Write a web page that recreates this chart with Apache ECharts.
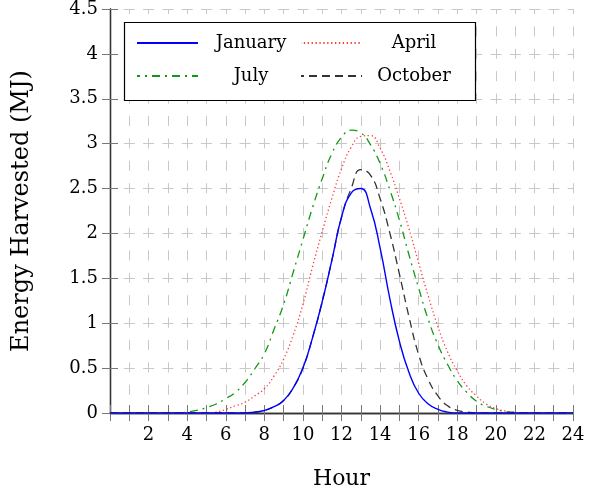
<!DOCTYPE html>
<html>
<head>
<meta charset="utf-8">
<script src="https://cdn.jsdelivr.net/npm/echarts@6/dist/echarts.min.js"></script>
<style>
html,body{margin:0;padding:0;background:#fff;}
#chart{width:589px;height:495px;}
</style>
</head>
<body>
<div id="chart"></div>
<script>
// Hours (half-hour steps)
var hours = [0,0.5,1,1.5,2,2.5,3,3.5,4,4.5,5,5.5,6,6.5,7,7.5,8,8.5,9,9.5,10,10.5,11,11.5,12,12.5,13,13.5,14,14.5,15,15.5,16,16.5,17,17.5,18,18.5,19,19.5,20,20.5,21,21.5,22,22.5,23,23.5,24];

var january = [0,0,0,0,0,0,0,0,0,0,0,0,0,0,
  0,0.01,0.028,0.07,0.14,0.28,0.50,0.84,1.24,1.70,2.18,2.45,2.50,2.28,1.84,1.28,0.80,0.45,0.22,0.10,0.04,0.01,
  0,0,0,0,0,0,0,0,0,0,0,0,0];

var april = [0,0,0,0,0,0,0,0,0,0,0,
  0.01,0.04,0.08,0.12,0.19,0.27,0.41,0.60,0.87,1.21,1.63,2.02,2.39,2.72,2.96,3.08,3.09,2.95,2.70,2.39,2.05,1.67,1.30,0.96,0.68,0.47,0.30,0.19,0.10,0.05,0.02,0.005,
  0,0,0,0,0,0];

var july = [0,0,0,0,0,0,0,0,
  0.01,0.03,0.06,0.10,0.16,0.23,0.34,0.49,0.66,0.93,1.21,1.57,1.93,2.29,2.61,2.89,3.07,3.15,3.12,2.99,2.78,2.49,2.15,1.76,1.39,1.04,0.76,0.54,0.36,0.23,0.13,0.075,0.04,0.017,0.008,0.003,
  0,0,0,0,0];

var october = [0,0,0,0,0,0,0,0,0,0,0,0,0,0,0,
  0.01,0.028,0.07,0.14,0.28,0.50,0.84,1.24,1.70,2.18,2.50,2.71,2.65,2.39,2.01,1.55,1.07,0.65,0.37,0.19,0.08,0.03,0.01,
  0,0,0,0,0,0,0,0,0,0,0];

var seriesNames = ['January','April','July','October'];
var xTickLabels = ['2','4','6','8','10','12','14','16','18','20','22','24'];
var xAxisTitle = 'Hour';
var yAxisTitle = 'Energy Harvested (MJ)';

function pairs(vals){ return hours.map(function(h,i){ return [h, vals[i]]; }); }

var FONT = "'DejaVu Serif', serif";
var chart = echarts.init(document.getElementById('chart'), null, {renderer:'canvas'});

var gridSplitV = {show:true, lineStyle:{color:'#c8c8c8', width:1, type:[10,12.4], dashOffset:5}};
var gridSplitH = {show:true, lineStyle:{color:'#c8c8c8', width:1, type:[11,8.3], dashOffset:5.5}};
var axisLineStyle = {show:true, lineStyle:{color:'#333', width:1.3}};
var tickStyle = {show:true, inside:true, length:8, lineStyle:{color:'#777', width:1}};

function mkLegend(name, left, top, textWidth){
  return {
    show:true, data:[name], left:left, top:top, padding:0,
    itemWidth:61, itemHeight:20, itemGap:0, orient:'horizontal',
    selectedMode:false,
    itemStyle:{color:'rgba(0,0,0,0)', borderWidth:0, opacity:0},
    formatter:function(n){ return '{t|' + n + '}'; },
    textStyle:{fontFamily:FONT, fontSize:18, color:'#000',
      rich:{t:{fontFamily:FONT, fontSize:18, color:'#000', width:textWidth, align:'center'}}}
  };
}

var option = {
  backgroundColor:'#fff',
  animation:false,
  grid:{left:110, right:16, top:9, bottom:82, containLabel:false},
  graphic:[{
    type:'rect', z:3,
    shape:{x:124.5, y:22.5, width:351, height:78},
    style:{fill:'#fff', stroke:'#000', lineWidth:1.2}
  }],
  legend:[
    mkLegend(seriesNames[0], 136, 34, 96),
    mkLegend(seriesNames[1], 300, 34, 94),
    mkLegend(seriesNames[2], 136, 67, 96),
    mkLegend(seriesNames[3], 300, 67, 94)
  ],
  xAxis:[{
    type:'value', min:0, max:24, interval:1, position:'bottom',
    name:xAxisTitle, nameLocation:'middle', nameGap:55,
    nameTextStyle:{fontFamily:FONT, fontSize:22, color:'#000'},
    axisLine:axisLineStyle, axisTick:tickStyle,
    axisLabel:{show:true, margin:13, fontFamily:FONT, fontSize:18, color:'#000',
      formatter:function(v){ var s=String(v); return xTickLabels.indexOf(s) >= 0 ? s : ''; }},
    splitLine:gridSplitV
  },{
    type:'value', min:0, max:24, interval:1, position:'top',
    axisLine:axisLineStyle, axisTick:tickStyle, axisLabel:{show:false}, splitLine:{show:false}
  }],
  yAxis:[{
    type:'value', min:0, max:4.5, interval:0.5, position:'left',
    name:yAxisTitle, nameLocation:'middle', nameGap:76, nameRotate:90,
    nameTextStyle:{fontFamily:FONT, fontSize:24, color:'#000'},
    axisLine:axisLineStyle, axisTick:tickStyle,
    axisLabel:{show:true, margin:12, fontFamily:FONT, fontSize:18, color:'#000'},
    splitLine:gridSplitH
  },{
    type:'value', min:0, max:4.5, interval:0.5, position:'right',
    axisLine:axisLineStyle, axisTick:tickStyle, axisLabel:{show:false}, splitLine:{show:false}
  }],
  series:[
    {name:seriesNames[0], type:'line', data:pairs(january), smooth:0.5, symbol:'none',
      lineStyle:{color:'#0000ff', width:1.4, type:'solid'}, itemStyle:{color:'#0000ff'}, z:5},
    {name:seriesNames[1], type:'line', data:pairs(april), smooth:0.5, symbol:'none',
      lineStyle:{color:'#ff3b3b', width:1.3, type:[1.3,2.6]}, itemStyle:{color:'#ff3b3b'}, z:4},
    {name:seriesNames[2], type:'line', data:pairs(july), smooth:0.5, symbol:'none',
      lineStyle:{color:'#119911', width:1.3, type:[8,5,2,5]}, itemStyle:{color:'#119911'}, z:3},
    {name:seriesNames[3], type:'line', data:pairs(october), smooth:0.5, symbol:'none',
      lineStyle:{color:'#333333', width:1.3, type:[8,5]}, itemStyle:{color:'#333333'}, z:4}
  ]
};
chart.setOption(option);
</script>
</body>
</html>
